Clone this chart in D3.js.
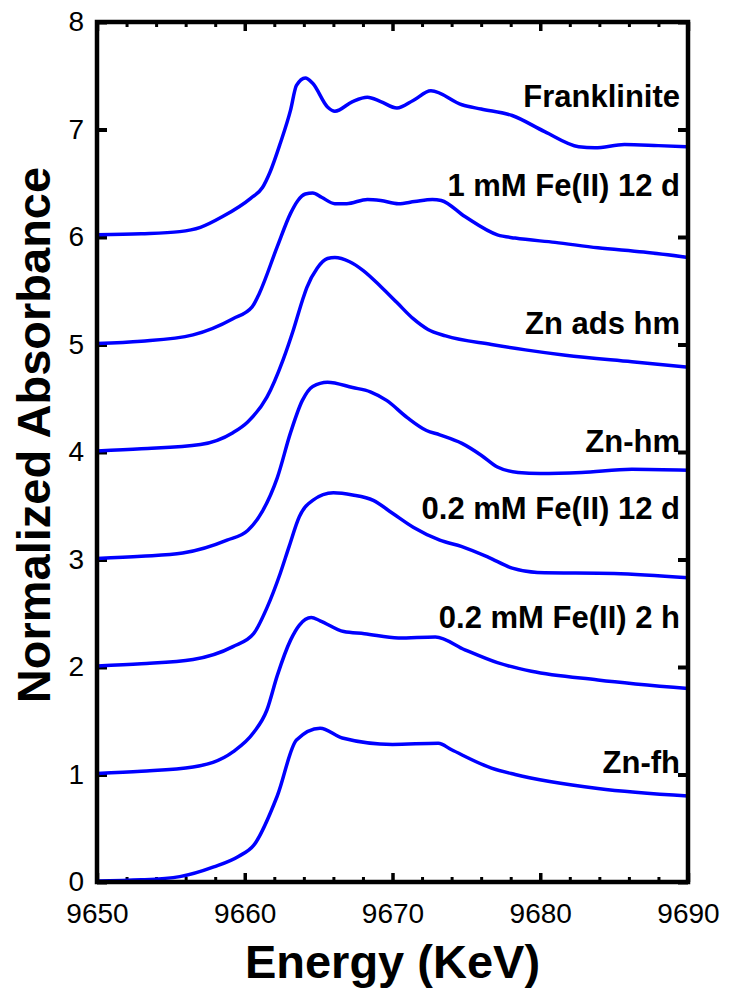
<!DOCTYPE html>
<html>
<head>
<meta charset="utf-8">
<script src="https://cdn.jsdelivr.net/npm/d3@7"></script>
<style>
  body { margin: 0; background: #fff; }
  svg text { font-family: "Liberation Sans", Arial, Helvetica, sans-serif; }
</style>
</head>
<body>
<div id="chart"></div>
<script>
// spectra (already stacked with +1 offsets)
const names = ["Franklinite", "1 mM Fe(II) 12 d", "Zn ads hm", "Zn-hm",
  "0.2 mM Fe(II) 12 d", "0.2 mM Fe(II) 2 h", "Zn-fh"];

const eFrank = [9650, 9653, 9655.6, 9657, 9658.5, 9660.4, 9661.2, 9661.7, 9662.4, 9663.1, 9663.5, 9664.1, 9664.6, 9665.6, 9666.1, 9667.3, 9668.3, 9669.2, 9670.3, 9671.4, 9672.6, 9674.7, 9676, 9678.1, 9680.3, 9682.6, 9683.7, 9685.7, 9688, 9690];
const yFrank = [6.02, 6.03, 6.05, 6.09, 6.19, 6.36, 6.46, 6.60, 6.87, 7.18, 7.41, 7.48, 7.43, 7.21, 7.17, 7.26, 7.30, 7.26, 7.20, 7.27, 7.36, 7.23, 7.19, 7.13, 6.98, 6.84, 6.83, 6.86, 6.85, 6.84];

const eFe1mM12d = [9650, 9653, 9656.5, 9659.2, 9660.5, 9661, 9662.2, 9663.1, 9663.6, 9664.1, 9664.6, 9665.2, 9666.1, 9666.9, 9668.3, 9669.2, 9670.4, 9671.5, 9672.7, 9673.3, 9674.9, 9677.1, 9678.3, 9681, 9683.9, 9687, 9690];
const yFe1mM12d = [5.01, 5.03, 5.09, 5.24, 5.35, 5.48, 5.91, 6.22, 6.34, 6.40, 6.41, 6.37, 6.31, 6.31, 6.35, 6.34, 6.31, 6.33, 6.35, 6.34, 6.19, 6.02, 5.99, 5.95, 5.90, 5.86, 5.81];

const eAdsHm = [9650, 9653, 9657, 9659.2, 9660.2, 9661.5, 9662.6, 9663.3, 9663.9, 9664.2, 9664.9, 9665.6, 9666.1, 9667.1, 9668, 9669.2, 9670.3, 9671.4, 9672.4, 9673.6, 9676.7, 9679, 9681.7, 9686.2, 9690];
const yAdsHm = [4.01, 4.03, 4.07, 4.18, 4.28, 4.51, 4.86, 5.14, 5.41, 5.53, 5.71, 5.80, 5.81, 5.77, 5.69, 5.54, 5.39, 5.24, 5.14, 5.08, 5.00, 4.95, 4.90, 4.84, 4.79];

const eZnHm = [9650, 9653, 9655.8, 9658.8, 9660.2, 9661.2, 9662.2, 9663.1, 9663.9, 9664.6, 9665.6, 9667.3, 9668.5, 9669.6, 9671, 9672.3, 9673.2, 9674.7, 9676, 9677.1, 9678.5, 9680, 9682.8, 9686.2, 9690];
const yZnHm = [3.01, 3.03, 3.06, 3.18, 3.27, 3.45, 3.76, 4.18, 4.48, 4.61, 4.65, 4.60, 4.56, 4.48, 4.32, 4.20, 4.16, 4.08, 3.97, 3.86, 3.81, 3.80, 3.81, 3.84, 3.83];

const eFe02_12d = [9650, 9653, 9656.5, 9659.2, 9660.6, 9661.5, 9662.4, 9663.0, 9663.7, 9664.6, 9666, 9667.3, 9668.7, 9670, 9671.4, 9673.2, 9674.7, 9676.5, 9678.1, 9679.8, 9685, 9690];
const yFe02_12d = [2.01, 2.03, 2.07, 2.19, 2.31, 2.55, 2.87, 3.12, 3.40, 3.55, 3.62, 3.60, 3.55, 3.43, 3.30, 3.18, 3.12, 3.02, 2.92, 2.88, 2.87, 2.83];

const eFe02_2h = [9650, 9653, 9656.5, 9659.2, 9660.6, 9661.5, 9662.2, 9663.1, 9663.7, 9664.5, 9665.1, 9666.7, 9668.1, 9670.4, 9672.9, 9674.9, 9677.1, 9679.4, 9683.9, 9690];
const yFe02_2h = [1.01, 1.03, 1.07, 1.21, 1.39, 1.60, 1.92, 2.25, 2.39, 2.46, 2.43, 2.33, 2.31, 2.27, 2.28, 2.16, 2.04, 1.96, 1.88, 1.80];

const eZnFh = [9650, 9653, 9655.6, 9657.9, 9659.6, 9660.6, 9662.2, 9663.5, 9665.1, 9666.6, 9670, 9673.1, 9674, 9676.7, 9678.3, 9683.9, 9690];
const yZnFh = [0.01, 0.02, 0.05, 0.14, 0.24, 0.34, 0.80, 1.32, 1.43, 1.34, 1.28, 1.29, 1.23, 1.06, 1.00, 0.87, 0.80];

const xTicks = [9650, 9660, 9670, 9680, 9690];
const yTicks = [0, 1, 2, 3, 4, 5, 6, 7, 8];

const energies = [eFrank, eFe1mM12d, eAdsHm, eZnHm, eFe02_12d, eFe02_2h, eZnFh];
const values = [yFrank, yFe1mM12d, yAdsHm, yZnHm, yFe02_12d, yFe02_2h, yZnFh];
// label baselines in data units (just above each curve's right end)
const labelY = [7.21, 6.38, 5.10, 4.0, 3.38, 2.36, 1.01];

const series = names.map((name, i) => ({
  name,
  points: energies[i].map((e, j) => ({ e, v: values[i][j] })),
  labelY: labelY[i]
}));

// layout
const width = 730, height = 1000;
const margin = { top: 22, right: 42, bottom: 118, left: 97 };
const innerW = width - margin.left - margin.right;
const innerH = height - margin.top - margin.bottom;

const svg = d3.select("#chart").append("svg")
  .attr("width", width)
  .attr("height", height);

const plot = svg.append("g")
  .attr("transform", `translate(${margin.left},${margin.top})`);

const x = d3.scaleLinear().domain([9650, 9690]).range([0, innerW]);
const y = d3.scaleLinear().domain([0, 8]).range([innerH, 0]);

const minorX = d3.range(9650, 9691, 2).filter(d => !xTicks.includes(d));

function styleTicks(g, w) {
  g.select(".domain").remove();
  g.selectAll(".tick line").attr("stroke", "#000").attr("stroke-width", w);
}

// bottom axis: major + minor, ticks pointing inward
plot.append("g")
  .attr("transform", `translate(0,${innerH})`)
  .call(d3.axisBottom(x).tickValues(minorX).tickSize(-5).tickFormat(""))
  .call(g => styleTicks(g, 3));
plot.append("g")
  .attr("transform", `translate(0,${innerH})`)
  .call(d3.axisBottom(x).tickValues(xTicks).tickSize(-9).tickPadding(21).tickFormat(d3.format("d")))
  .call(g => styleTicks(g, 3.5))
  .call(g => g.selectAll("text").attr("fill", "#000").style("font-size", "28px"));

// top axis
plot.append("g")
  .call(d3.axisTop(x).tickValues(minorX).tickSize(-5).tickFormat(""))
  .call(g => styleTicks(g, 3));
plot.append("g")
  .call(d3.axisTop(x).tickValues(xTicks).tickSize(-9).tickFormat(""))
  .call(g => styleTicks(g, 3.5));

// left axis
plot.append("g")
  .call(d3.axisLeft(y).tickValues(yTicks).tickSize(-10).tickPadding(13).tickFormat(d3.format("d")))
  .call(g => styleTicks(g, 4))
  .call(g => g.selectAll("text").attr("fill", "#000").style("font-size", "28px"));

// right axis
plot.append("g")
  .attr("transform", `translate(${innerW},0)`)
  .call(d3.axisRight(y).tickValues(yTicks).tickSize(-10).tickFormat(""))
  .call(g => styleTicks(g, 4));

// curves
const line = d3.line()
  .x(d => x(d.e))
  .y(d => y(d.v))
  .curve(d3.curveMonotoneX);

plot.selectAll(".spec")
  .data(series)
  .join("path")
  .attr("class", "spec")
  .attr("fill", "none")
  .attr("stroke", "#0000ff")
  .attr("stroke-width", 3.5)
  .attr("stroke-linejoin", "round")
  .attr("d", d => line(d.points));

// frame
plot.append("rect")
  .attr("width", innerW)
  .attr("height", innerH)
  .attr("fill", "none")
  .attr("stroke", "#000")
  .attr("stroke-width", 4.5);

// series labels
plot.selectAll(".lab")
  .data(series)
  .join("text")
  .attr("class", "lab")
  .attr("x", innerW - 8)
  .attr("y", d => y(d.labelY))
  .attr("text-anchor", "end")
  .attr("fill", "#000")
  .style("font-size", "31px")
  .style("font-weight", "700")
  .text(d => d.name);

// axis titles
svg.append("text")
  .attr("x", margin.left + innerW / 2)
  .attr("y", 978)
  .attr("text-anchor", "middle")
  .style("font-size", "47px")
  .style("font-weight", "700")
  .text("Energy (KeV)");

svg.append("text")
  .attr("transform", "translate(50,435) rotate(-90)")
  .attr("text-anchor", "middle")
  .style("font-size", "47px")
  .style("font-weight", "700")
  .text("Normalized Absorbance");
</script>
</body>
</html>
